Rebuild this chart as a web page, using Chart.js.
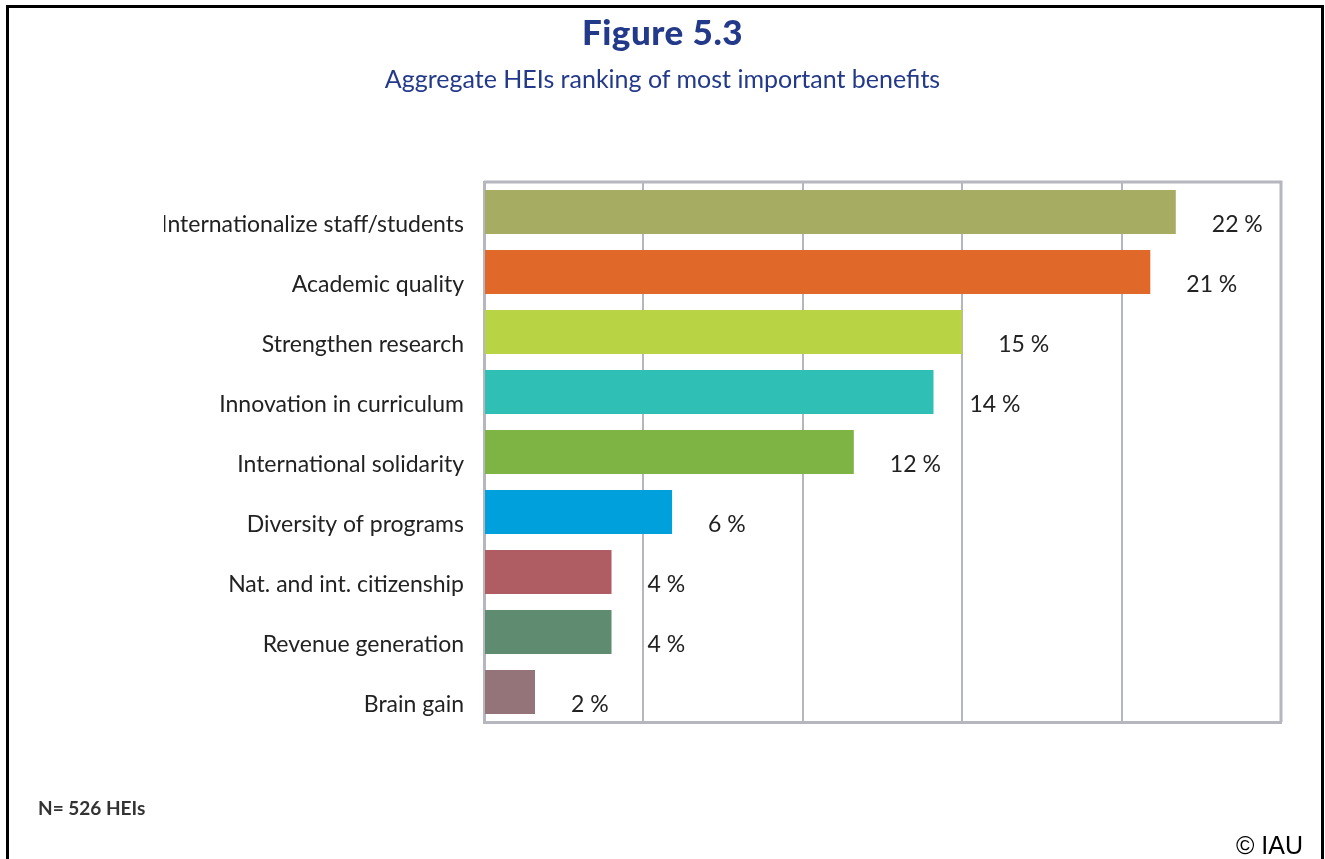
<!DOCTYPE html>
<html>
<head>
<meta charset="utf-8">
<script src="https://cdn.jsdelivr.net/npm/chart.js@4.4.1/dist/chart.umd.min.js"></script>
<style>
  html, body { margin: 0; padding: 0; background: #fff; }
  body { width: 1325px; height: 859px; position: relative; overflow: hidden; }
  #frame { position: absolute; left: 6px; top: 5px; width: 1312px; height: 900px; border: 3px solid #000; }
  #wrap { position: absolute; left: 0; top: 0; width: 1325px; height: 859px; }
  .txt { position: absolute; white-space: nowrap; }
  #fig { left: 0; width: 1325px; top: 10px; text-align: center; font: 900 35px Lato, sans-serif; letter-spacing: 0.5px; color: #23398a; }
  #sub { left: 0; width: 1325px; top: 63px; text-align: center; font: 25px Lato, sans-serif; color: #23398a; }
  #note { left: 38px; top: 796px; font: bold 19px Lato, sans-serif; color: #333; }
  #copy { left: 1236px; top: 831px; font: 25px "Liberation Sans", Arial, sans-serif; color: #000; }
</style>
</head>
<body>
<div id="frame"></div>
<div id="wrap"><canvas id="chart" width="1325" height="859"></canvas></div>
<div class="txt" id="fig">Figure 5.3</div>
<div class="txt" id="sub">Aggregate HEIs ranking of most important benefits</div>
<div class="txt" id="note">N= 526 HEIs</div>
<div class="txt" id="copy">© IAU</div>
<script>
const categories = [
    'Internationalize staff/students',
    'Academic quality',
    'Strengthen research',
    'Innovation in curriculum',
    'International solidarity',
    'Diversity of programs',
    'Nat. and int. citizenship',
    'Revenue generation',
    'Brain gain'
];
const shares = [21.7, 20.9, 15.0, 14.1, 11.6, 5.9, 4.0, 4.0, 1.6];
const shareLabels = ['22 %', '21 %', '15 %', '14 %', '12 %', '6 %', '4 %', '4 %', '2 %'];
const barColors = ['#a6ad62', '#e0692a', '#b8d444', '#30bfb4', '#7db443', '#00a0dc', '#b05c63', '#5f8c70', '#957479'];

const gridColor = '#b6b6be';

// box top/right edges + value labels next to bars
const extras = {
    id: 'extras',
    beforeDatasetsDraw(chart) {
        const { ctx, chartArea: a } = chart;
        ctx.save();
        ctx.strokeStyle = gridColor;
        ctx.lineWidth = 3;
        ctx.beginPath();
        ctx.moveTo(a.left, a.top);
        ctx.lineTo(a.right, a.top);
        ctx.lineTo(a.right, a.bottom);
        ctx.stroke();
        ctx.restore();
    },
    afterDatasetsDraw(chart) {
        const { ctx } = chart;
        const meta = chart.getDatasetMeta(0);
        ctx.save();
        ctx.font = '23px Lato, sans-serif';
        ctx.fillStyle = '#222';
        ctx.textAlign = 'left';
        ctx.textBaseline = 'middle';
        meta.data.forEach((bar, i) => {
            ctx.fillText(shareLabels[i], bar.x + 36, bar.y + 13);
        });
        ctx.restore();
    }
};

new Chart(document.getElementById('chart'), {
    type: 'bar',
    data: {
        labels: categories,
        datasets: [{
            data: shares,
            backgroundColor: barColors,
            borderWidth: 0,
            categoryPercentage: 1.0,
            barPercentage: 0.73
        }]
    },
    options: {
        indexAxis: 'y',
        responsive: false,
        animation: false,
        layout: { padding: { left: 164, top: 182, right: 44, bottom: 137 } },
        plugins: { legend: { display: false }, tooltip: { enabled: false } },
        scales: {
            x: {
                min: 0,
                max: 25,
                ticks: { display: false, stepSize: 5 },
                grid: { color: gridColor, lineWidth: 2, drawTicks: false },
                border: { color: gridColor, width: 3 },
                afterFit: s => { s.height = 0; }
            },
            y: {
                ticks: {
                    color: '#222',
                    font: { family: 'Lato, sans-serif', size: 23 },
                    padding: 20,
                    labelOffset: 13
                },
                grid: { display: false, drawTicks: false },
                border: { color: gridColor, width: 3 },
                afterFit: s => { s.width = 320; }
            }
        }
    },
    plugins: [extras]
});
</script>
</body>
</html>
